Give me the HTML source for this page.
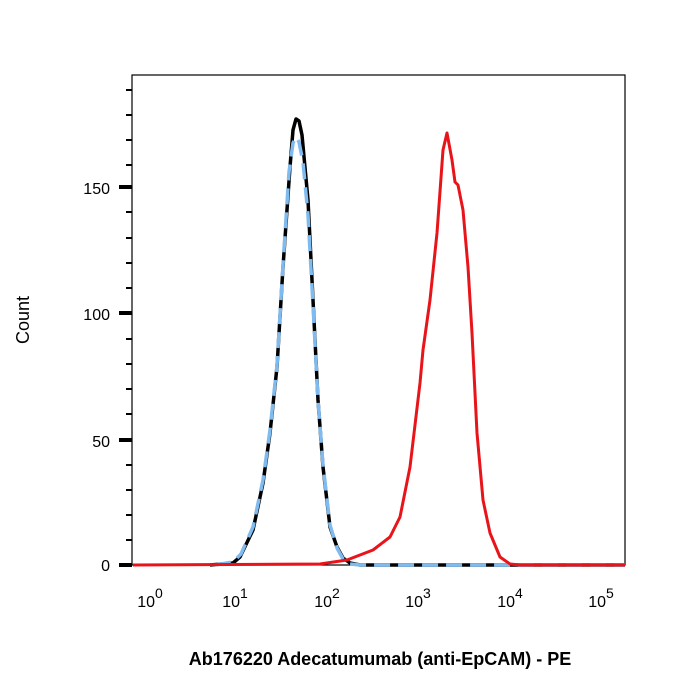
<!DOCTYPE html>
<html><head><style>body{margin:0;background:#fff}svg{display:block}</style></head><body>
<svg width="700" height="700" xmlns="http://www.w3.org/2000/svg" font-family="Liberation Sans, Arial, sans-serif">
<rect x="132" y="75" width="493" height="490" fill="none" stroke="#000" stroke-width="1.2"/>
<g stroke="#000" stroke-width="2">
<line x1="126" y1="90" x2="132" y2="90"/><line x1="126" y1="115" x2="132" y2="115"/><line x1="126" y1="140" x2="132" y2="140"/><line x1="126" y1="165" x2="132" y2="165"/>
<line x1="126" y1="212" x2="132" y2="212"/><line x1="126" y1="238" x2="132" y2="238"/><line x1="126" y1="263" x2="132" y2="263"/><line x1="126" y1="288" x2="132" y2="288"/>
<line x1="126" y1="339" x2="132" y2="339"/><line x1="126" y1="364" x2="132" y2="364"/><line x1="126" y1="389" x2="132" y2="389"/><line x1="126" y1="414" x2="132" y2="414"/>
<line x1="126" y1="465" x2="132" y2="465"/><line x1="126" y1="490" x2="132" y2="490"/><line x1="126" y1="515" x2="132" y2="515"/><line x1="126" y1="540" x2="132" y2="540"/>
</g>
<g stroke="#000" stroke-width="4">
<line x1="119" y1="187" x2="132" y2="187"/><line x1="119" y1="313" x2="132" y2="313"/><line x1="119" y1="440" x2="132" y2="440"/><line x1="119" y1="565" x2="132" y2="565"/>
</g>
<g font-size="16" text-anchor="end" fill="#000">
<text x="110" y="194">150</text><text x="110" y="320">100</text><text x="110" y="447">50</text><text x="110" y="571">0</text>
</g>
<g id="xt" stroke="#000"></g>
<g font-size="16" fill="#000" text-anchor="middle">
<text x="150" y="607">10<tspan dy="-9" font-size="14">0</tspan></text>
<text x="235" y="607">10<tspan dy="-9" font-size="14">1</tspan></text>
<text x="327" y="607">10<tspan dy="-9" font-size="14">2</tspan></text>
<text x="418" y="607">10<tspan dy="-9" font-size="14">3</tspan></text>
<text x="510" y="607">10<tspan dy="-9" font-size="14">4</tspan></text>
<text x="601" y="607">10<tspan dy="-9" font-size="14">5</tspan></text>
</g>
<text x="380" y="665" font-size="18" font-weight="bold" text-anchor="middle">Ab176220 Adecatumumab (anti-EpCAM) - PE</text>
<text transform="translate(29,320) rotate(-90)" font-size="18" text-anchor="middle">Count</text>
<g stroke-linejoin="round" stroke-linecap="butt" fill="none">
<polyline stroke="#000" stroke-width="3.5" points="210,565 233,563 240,557 253,530 263,483 270,433 277,367 283,267 290,167 293,130 296,119 299,121 302,135 308,200 313,300 318,400 323,467 330,527 337,547 343,558 350,563 360,565 625,565"/>
<polyline stroke="#7fbbee" stroke-width="3.5" stroke-dasharray="16,8" points="215,565 233,562 241,554 253,527 263,480 270,430 277,365 283,265 289,172 293,143 296,137 299,142 303,162 308,215 313,305 318,400 323,465 330,525 337,548 343,559 350,564 360,565 625,565"/>
<polyline stroke="#e8141a" stroke-width="3" points="133,565 320,564 347,560 373,550 390,537 400,517 410,467 420,383 423,350 430,300 437,233 443,150 447,133 452,160 455,182 458,185 463,210 468,267 472,333 477,433 483,500 490,533 500,557 510,564 520,565 625,565"/>
</g>
<script>
var g=document.getElementById('xt'),s='';
var x0=133,d=91.4;
for(var k=0;k<6;k++){var xm=x0+k*d;s+='<line x1="'+xm+'" y1="565" x2="'+xm+'" y2="579" stroke-width="4"/>';
if(k<5)for(var m=2;m<10;m++){var x=xm+Math.log10(m)*d;var big=(m==5);s+='<line x1="'+x+'" y1="565" x2="'+x+'" y2="'+(big?575:572)+'" stroke-width="'+(big?3:2)+'"/>';}}
g.innerHTML=s;
</script>
</svg>
</body></html>
